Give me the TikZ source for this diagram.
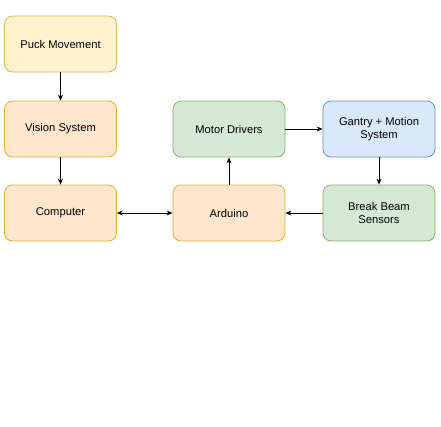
\documentclass[tikz,border=0pt]{standalone}
\usepackage{fontspec}
\setmainfont{Liberation Sans}
\usetikzlibrary{arrows.meta}
\definecolor{yelfill}{HTML}{FFF2CC}
\definecolor{yelline}{HTML}{D6B656}
\definecolor{orafill}{HTML}{FFE6CC}
\definecolor{oraline}{HTML}{E0AE2A}
\definecolor{grefill}{HTML}{D5E8D4}
\definecolor{greline}{HTML}{82B366}
\definecolor{blufill}{HTML}{DAE8FC}
\definecolor{bluline}{HTML}{6C8EBF}
\begin{document}
\begin{tikzpicture}[x=1pt,y=-1pt,
  block/.style={draw,rounded corners=8pt,line width=0.8pt,minimum width=112pt,minimum height=56pt,
    align=center,font=\fontsize{11.2}{12.6}\selectfont,text=black},
  yelbox/.style={block,fill=yelfill,draw=yelline},
  orabox/.style={block,fill=orafill,draw=oraline},
  grebox/.style={block,fill=grefill,draw=greline},
  blubox/.style={block,fill=blufill,draw=bluline},
  link/.style={line width=0.8pt,-{Stealth[length=6pt,width=5pt,inset=2pt]}},
  twolink/.style={line width=0.8pt,{Stealth[length=6pt,width=5pt,inset=2pt]}-{Stealth[length=6pt,width=5pt,inset=2pt]}}]
\useasboundingbox (0,0) rectangle (441,426);

\node [yelbox] (puck) at (60.5,44) {Puck Movement};
\node [orabox] (vision) at (60.5,129) {Vision System};
\node [orabox] (computer) at (60.5,213) {Computer};

\node [grebox] (motor) at (229,129) {Motor Drivers};
\node [orabox] (arduino) at (229,213) {Arduino};

\node [blubox] (gantry) at (379,129) {Gantry + Motion\\System};
\node [grebox] (beam) at (379,213) {Break Beam\\Sensors};

\draw [link] (puck) -- (vision);
\draw [link] (vision) -- (computer);
\draw [twolink] (computer) -- (arduino);
\draw [link] (arduino) -- (motor);
\draw [link] (motor) -- (gantry);
\draw [link] (gantry) -- (beam);
\draw [link] (beam) -- (arduino);

\end{tikzpicture}
\end{document}
